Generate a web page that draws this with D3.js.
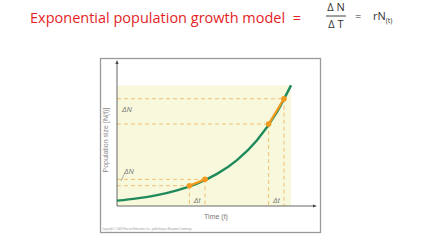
<!DOCTYPE html>
<html>
<head>
<meta charset="utf-8">
<script src="https://cdn.jsdelivr.net/npm/d3@7"></script>
<style>
  body { margin: 0; background: #fff; }
  svg { display: block; }
</style>
</head>
<body>
<script>
// curve (time, population size)
var curveT = [0, 10, 20, 30, 40, 50, 60, 70, 80, 87];
var curveN = [3.7, 5.3, 7.6, 10.9, 15.6, 22.3, 31.9, 45.7, 65.4, 83.8];
// the two delta-t intervals, start and end points
var pairT = [[36.2, 44], [75.8, 83.5]];
var pairN = [[14.1, 18.5], [56.9, 74.5]];
var xLabel = "Time (t)";
var yLabel = "Population size [N(t)]";
var title = "Exponential population growth model  =";

var width = 430, height = 245;

var svg = d3.select("body").append("svg")
  .attr("width", width).attr("height", height);

// title with the fraction
svg.append("text").attr("x", 30).attr("y", 23)
  .attr("font-family", "Open Sans, sans-serif").attr("font-size", 14.5)
  .attr("fill", "#e41e26").attr("xml:space", "preserve").text(title);

var fr = svg.append("g").attr("font-family", "Open Sans, sans-serif")
  .attr("font-size", 11).attr("fill", "#333");
fr.append("text").attr("x", 336).attr("y", 11).attr("text-anchor", "middle").text("\u0394 N");
fr.append("line").attr("x1", 326).attr("x2", 346).attr("y1", 16).attr("y2", 16)
  .attr("stroke", "#444").attr("stroke-width", 1);
fr.append("text").attr("x", 336).attr("y", 28).attr("text-anchor", "middle").text("\u0394 T");
fr.append("text").attr("x", 355).attr("y", 20).text("=");
var rn = fr.append("text").attr("x", 373).attr("y", 20).text("rN");
rn.append("tspan").attr("font-size", 7).attr("dy", 3).text("(t)");

// frame around the figure
svg.append("rect").attr("x", 100.5).attr("y", 58.5).attr("width", 220).attr("height", 174)
  .attr("fill", "#fff").attr("stroke", "#9a9a9a").attr("stroke-width", 1.3);

var x = d3.scaleLinear().domain([0, 100]).range([117, 317]);
var y = d3.scaleLinear().domain([0, 100]).range([206, 62]);

// pale yellow area
svg.append("rect").attr("x", x(0)).attr("y", y(83.8))
  .attr("width", x(87) - x(0)).attr("height", y(0) - y(83.8))
  .attr("fill", "#f8f9dc");

// dashed guides
var dash = svg.append("g").attr("stroke", "#f2be72").attr("stroke-width", 1)
  .attr("stroke-dasharray", "4,3");
pairT.forEach(function(p, i) {
  for (var j = 0; j < 2; j++) {
    dash.append("line").attr("x1", x(0)).attr("x2", x(p[j]))
      .attr("y1", y(pairN[i][j])).attr("y2", y(pairN[i][j]));
    dash.append("line").attr("x1", x(p[j])).attr("x2", x(p[j]))
      .attr("y1", y(pairN[i][j])).attr("y2", y(0));
  }
});

// axes with arrows
var ax = svg.append("g").attr("stroke", "#555").attr("stroke-width", 0.9);
ax.append("line").attr("x1", x(0)).attr("x2", x(0)).attr("y1", y(0)).attr("y2", 63);
ax.append("line").attr("x1", x(0)).attr("x2", 314).attr("y1", y(0)).attr("y2", y(0));
svg.append("path").attr("d", "M" + x(0) + ",60 l-1.6,4 h3.2 z").attr("fill", "#444");
svg.append("path").attr("d", "M317," + y(0) + " l-4,-1.6 v3.2 z").attr("fill", "#444");

// growth curve
var pts = curveT.map(function(t, i) { return [t, curveN[i]]; });
var line = d3.line().x(function(d) { return x(d[0]); }).y(function(d) { return y(d[1]); })
  .curve(d3.curveMonotoneX);
svg.append("path").datum(pts).attr("d", line)
  .attr("fill", "none").attr("stroke", "#1f8a5b").attr("stroke-width", 2.4);

// orange secant pieces and dots
pairT.forEach(function(p, i) {
  svg.append("line").attr("x1", x(p[0])).attr("y1", y(pairN[i][0]))
    .attr("x2", x(p[1])).attr("y2", y(pairN[i][1]))
    .attr("stroke", "#f39a1e").attr("stroke-width", 2.2);
  for (var j = 0; j < 2; j++) {
    svg.append("circle").attr("cx", x(p[j])).attr("cy", y(pairN[i][j])).attr("r", 2.8)
      .attr("fill", "#f39a1e");
  }
});

// small labels
var lab = svg.append("g").attr("font-family", "Liberation Sans, sans-serif")
  .attr("font-size", 7).attr("fill", "#777").attr("font-style", "italic");
lab.append("text").attr("x", 122).attr("y", y(66.5) + 2).text("\u0394N");
lab.append("text").attr("x", 124).attr("y", 174).text("\u0394N");
svg.append("line").attr("x1", 121).attr("y1", 181).attr("x2", 124).attr("y2", 174.5)
  .attr("stroke", "#777").attr("stroke-width", 0.6);
pairT.forEach(function(p) {
  lab.append("text").attr("x", x((p[0] + p[1]) / 2)).attr("y", 203)
    .attr("text-anchor", "middle").text("\u0394t");
});

svg.append("text").attr("x", x(49.5)).attr("y", 219).attr("text-anchor", "middle")
  .attr("font-family", "Liberation Sans, sans-serif").attr("font-size", 7)
  .attr("fill", "#777").text(xLabel);
svg.append("text").attr("transform", "translate(108,140) rotate(-90)")
  .attr("text-anchor", "middle").attr("font-family", "Liberation Sans, sans-serif")
  .attr("font-size", 7).attr("fill", "#888").text(yLabel);

svg.append("text").attr("x", 102).attr("y", 230)
  .attr("font-family", "Liberation Sans, sans-serif").attr("font-size", 2.6)
  .attr("fill", "#999")
  .text("Copyright \u00a9 2008 Pearson Education, Inc., publishing as Benjamin Cummings");
</script>
</body>
</html>
